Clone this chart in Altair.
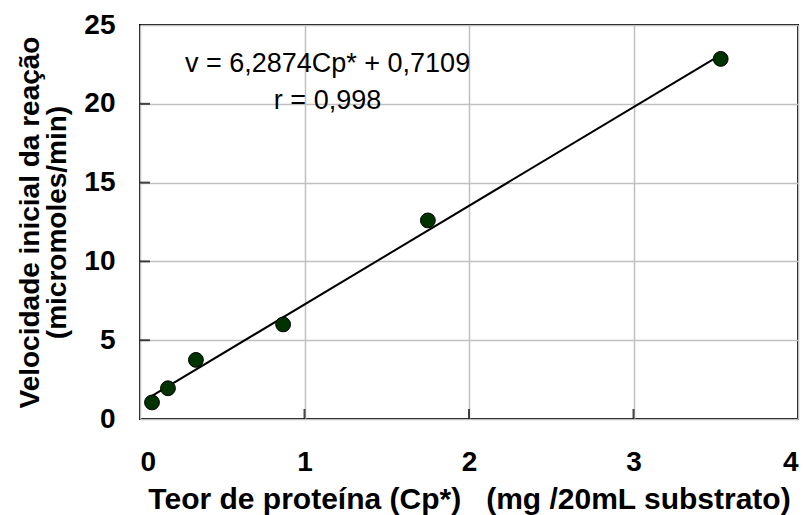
import altair as alt
import pandas as pd

# Data
protein = [0.073, 0.17, 0.34, 0.87, 1.75, 3.53]
velocity = [1.05, 1.95, 3.75, 6.0, 12.6, 22.85]

x_ticks = [0, 1, 2, 3, 4]
y_ticks = [0, 5, 10, 15, 20, 25]

ann_x = [1.14, 1.14]
ann_y = [22.5, 20.2]
ann_text = ["v = 6,2874Cp* + 0,7109", "r = 0,998"]

FONT = "Liberation Sans"
W, H = 658, 394

df = pd.DataFrame({"x": protein, "y": velocity})
ann = pd.DataFrame({"x": ann_x, "y": ann_y, "t": ann_text})
ytk = pd.DataFrame({"y": y_ticks[1:-1]})
xtk = pd.DataFrame({"x": x_ticks[1:-1]})

xscale = alt.Scale(domain=[0, 4], nice=False, zero=False)
yscale = alt.Scale(domain=[0, 25], nice=False)

xaxis = alt.Axis(values=x_ticks, title="Teor de proteína (Cp*)\u00a0\u00a0\u00a0(mg /20mL substrato)",
                 labelPadding=29, titlePadding=8, format="d", titleFontSize=30)
yaxis = alt.Axis(values=y_ticks,
                 title=["Velocidade inicial da reação", "(micromoles/min)"],
                 labelPadding=25, titlePadding=12, format="d", titleLineHeight=27)

base = alt.Chart(df)

points = base.mark_point(filled=True, size=220, fill="#003300", stroke="#000000",
                         strokeWidth=1, opacity=1).encode(
    x=alt.X("x:Q", scale=xscale, axis=xaxis),
    y=alt.Y("y:Q", scale=yscale, axis=yaxis),
)

trend = base.transform_regression("x", "y").mark_line(color="black", strokeWidth=2).encode(
    x=alt.X("x:Q", scale=xscale),
    y=alt.Y("y:Q", scale=yscale),
)

ytick_marks = alt.Chart(ytk).mark_tick(orient="horizontal", color="black", size=10, thickness=2).encode(
    y=alt.Y("y:Q", scale=yscale), x=alt.value(5)
)
xtick_marks = alt.Chart(xtk).mark_tick(orient="vertical", color="black", size=10, thickness=2).encode(
    x=alt.X("x:Q", scale=xscale), y=alt.value(H - 5)
)

text = alt.Chart(ann).mark_text(fontSize=27, font=FONT, align="center", baseline="middle",
                                color="black").encode(
    x=alt.X("x:Q", scale=xscale), y=alt.Y("y:Q", scale=yscale), text="t:N"
)

chart = alt.layer(ytick_marks, xtick_marks, trend, text, points).properties(
    width=W, height=H,
    autosize=alt.AutoSizeParams(type="none"),
    padding={"left": 140, "top": 25, "right": 8, "bottom": 96},
    background="white",
).configure_view(
    stroke="black", strokeWidth=2
).configure_axis(
    domain=False, ticks=False, grid=True, gridColor="#c0c0c0", gridWidth=1.5,
    labelFont=FONT, labelFontSize=28, labelFontWeight="bold", labelColor="black",
    titleFont=FONT, titleFontSize=28, titleFontWeight="bold", titleColor="black",
)

chart.save("out.html", embed_options={"renderer": "svg", "actions": False})
